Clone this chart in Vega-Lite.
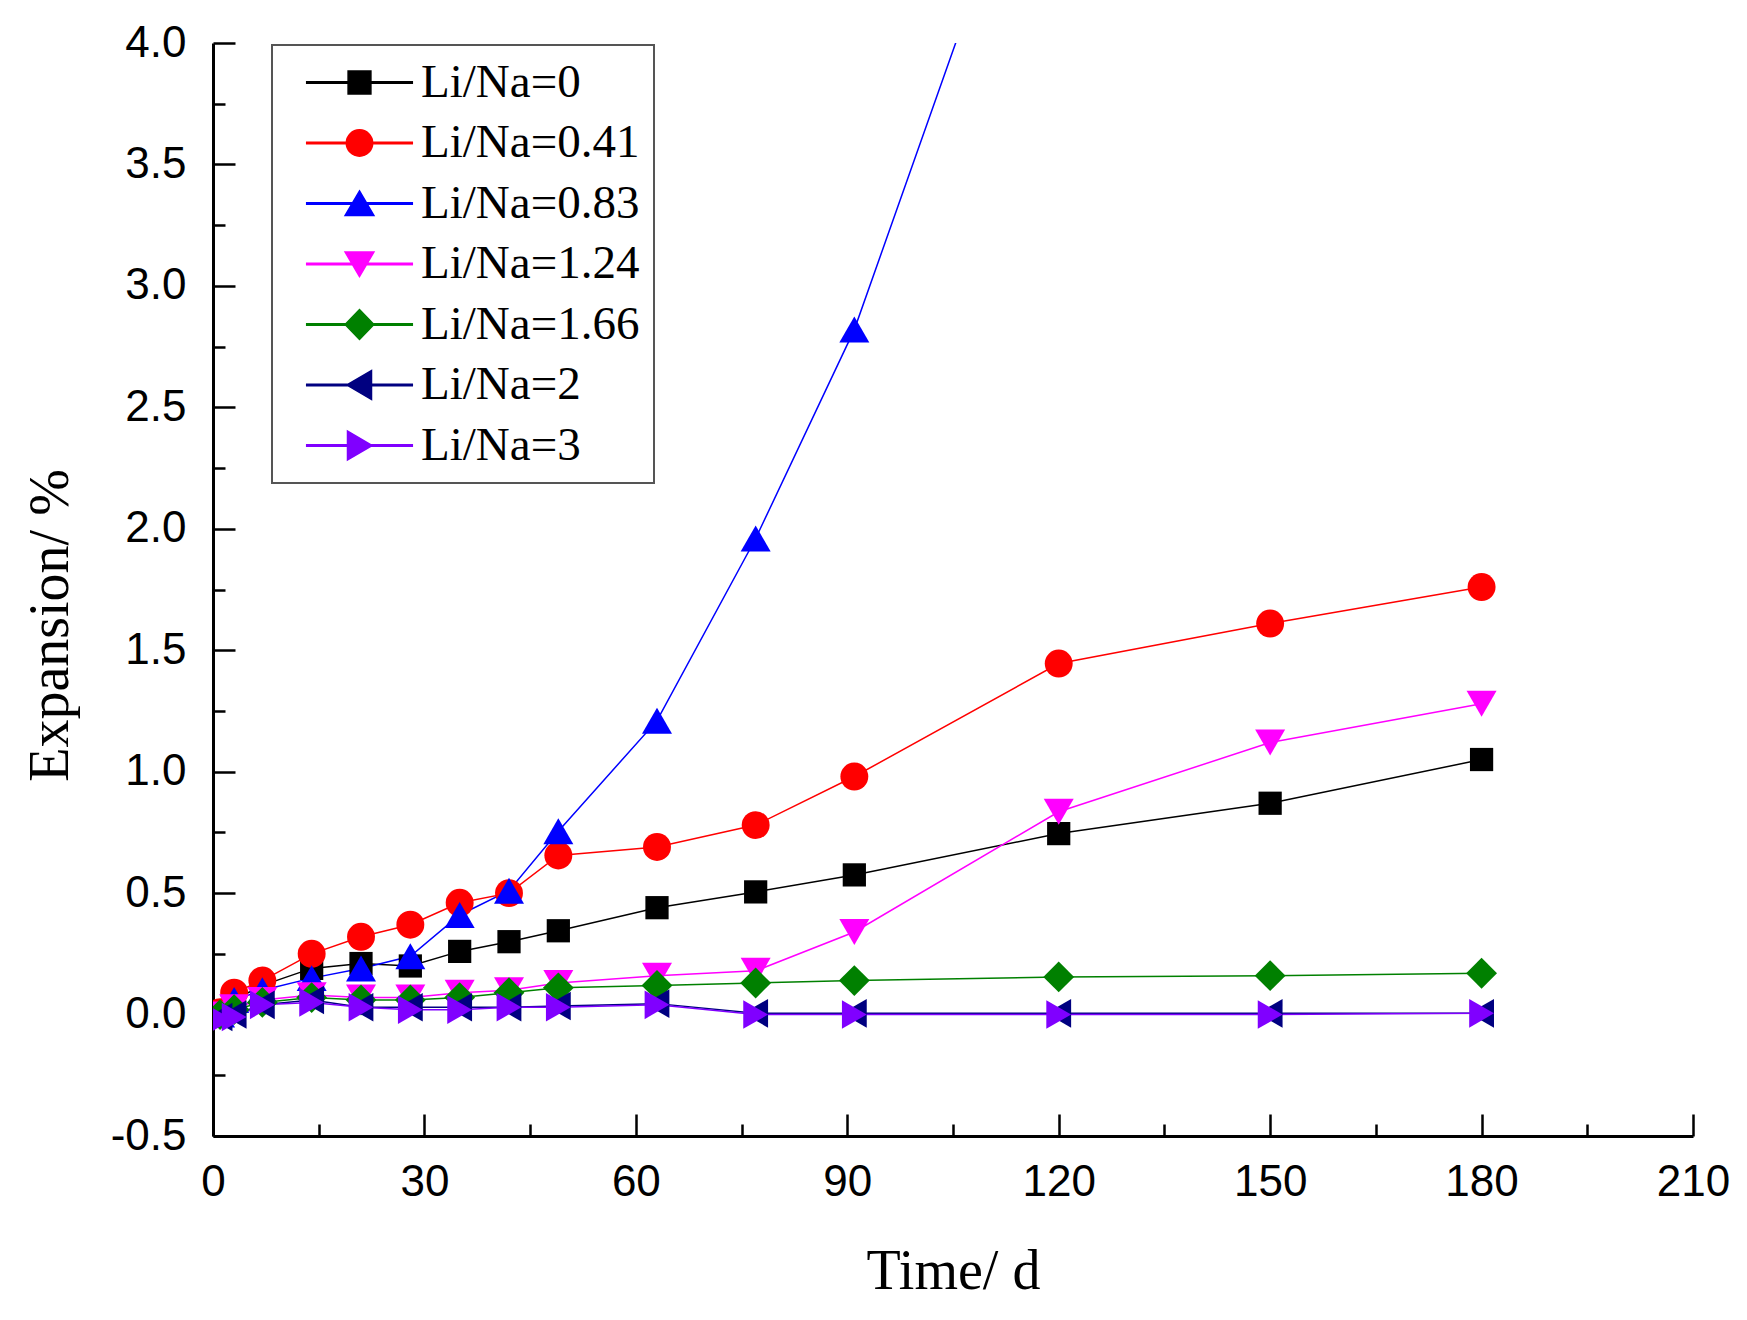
{
  "$schema": "https://vega.github.io/schema/vega-lite/v6.json",
  "width": 1480,
  "height": 1093,
  "autosize": {"type": "none"},
  "padding": {"left": 213, "top": 43, "right": 54, "bottom": 184},
  "background": "white",
  "config": {"view": {"stroke": null}, "legend": {"strokeWidth": 2}},
  "data": {"values": [
    {"series": "Li/Na=0", "day": 1, "expansion": 0.0},
    {"series": "Li/Na=0", "day": 3, "expansion": 0.06},
    {"series": "Li/Na=0", "day": 7, "expansion": 0.12},
    {"series": "Li/Na=0", "day": 14, "expansion": 0.19},
    {"series": "Li/Na=0", "day": 21, "expansion": 0.21},
    {"series": "Li/Na=0", "day": 28, "expansion": 0.2},
    {"series": "Li/Na=0", "day": 35, "expansion": 0.26},
    {"series": "Li/Na=0", "day": 42, "expansion": 0.3},
    {"series": "Li/Na=0", "day": 49, "expansion": 0.345},
    {"series": "Li/Na=0", "day": 63, "expansion": 0.44},
    {"series": "Li/Na=0", "day": 77, "expansion": 0.505},
    {"series": "Li/Na=0", "day": 91, "expansion": 0.575},
    {"series": "Li/Na=0", "day": 120, "expansion": 0.745},
    {"series": "Li/Na=0", "day": 150, "expansion": 0.87},
    {"series": "Li/Na=0", "day": 180, "expansion": 1.05},

    {"series": "Li/Na=0.41", "day": 1, "expansion": 0.01},
    {"series": "Li/Na=0.41", "day": 3, "expansion": 0.09},
    {"series": "Li/Na=0.41", "day": 7, "expansion": 0.14},
    {"series": "Li/Na=0.41", "day": 14, "expansion": 0.25},
    {"series": "Li/Na=0.41", "day": 21, "expansion": 0.32},
    {"series": "Li/Na=0.41", "day": 28, "expansion": 0.37},
    {"series": "Li/Na=0.41", "day": 35, "expansion": 0.46},
    {"series": "Li/Na=0.41", "day": 42, "expansion": 0.5},
    {"series": "Li/Na=0.41", "day": 49, "expansion": 0.655},
    {"series": "Li/Na=0.41", "day": 63, "expansion": 0.69},
    {"series": "Li/Na=0.41", "day": 77, "expansion": 0.78},
    {"series": "Li/Na=0.41", "day": 91, "expansion": 0.98},
    {"series": "Li/Na=0.41", "day": 120, "expansion": 1.445},
    {"series": "Li/Na=0.41", "day": 150, "expansion": 1.61},
    {"series": "Li/Na=0.41", "day": 180, "expansion": 1.76},

    {"series": "Li/Na=0.83", "day": 1, "expansion": 0.0},
    {"series": "Li/Na=0.83", "day": 3, "expansion": 0.06},
    {"series": "Li/Na=0.83", "day": 7, "expansion": 0.1},
    {"series": "Li/Na=0.83", "day": 14, "expansion": 0.15},
    {"series": "Li/Na=0.83", "day": 21, "expansion": 0.19},
    {"series": "Li/Na=0.83", "day": 28, "expansion": 0.24},
    {"series": "Li/Na=0.83", "day": 35, "expansion": 0.41},
    {"series": "Li/Na=0.83", "day": 42, "expansion": 0.51},
    {"series": "Li/Na=0.83", "day": 49, "expansion": 0.755},
    {"series": "Li/Na=0.83", "day": 63, "expansion": 1.21},
    {"series": "Li/Na=0.83", "day": 77, "expansion": 1.96},
    {"series": "Li/Na=0.83", "day": 91, "expansion": 2.82},
    {"series": "Li/Na=0.83", "day": 120, "expansion": 5.2},

    {"series": "Li/Na=1.24", "day": 1, "expansion": 0.0},
    {"series": "Li/Na=1.24", "day": 3, "expansion": 0.03},
    {"series": "Li/Na=1.24", "day": 7, "expansion": 0.06},
    {"series": "Li/Na=1.24", "day": 14, "expansion": 0.08},
    {"series": "Li/Na=1.24", "day": 21, "expansion": 0.07},
    {"series": "Li/Na=1.24", "day": 28, "expansion": 0.07},
    {"series": "Li/Na=1.24", "day": 35, "expansion": 0.09},
    {"series": "Li/Na=1.24", "day": 42, "expansion": 0.1},
    {"series": "Li/Na=1.24", "day": 49, "expansion": 0.13},
    {"series": "Li/Na=1.24", "day": 63, "expansion": 0.16},
    {"series": "Li/Na=1.24", "day": 77, "expansion": 0.18},
    {"series": "Li/Na=1.24", "day": 91, "expansion": 0.34},
    {"series": "Li/Na=1.24", "day": 120, "expansion": 0.835},
    {"series": "Li/Na=1.24", "day": 150, "expansion": 1.12},
    {"series": "Li/Na=1.24", "day": 180, "expansion": 1.28},

    {"series": "Li/Na=1.66", "day": 1, "expansion": 0.0},
    {"series": "Li/Na=1.66", "day": 3, "expansion": 0.02},
    {"series": "Li/Na=1.66", "day": 7, "expansion": 0.05},
    {"series": "Li/Na=1.66", "day": 14, "expansion": 0.07},
    {"series": "Li/Na=1.66", "day": 21, "expansion": 0.06},
    {"series": "Li/Na=1.66", "day": 28, "expansion": 0.06},
    {"series": "Li/Na=1.66", "day": 35, "expansion": 0.07},
    {"series": "Li/Na=1.66", "day": 42, "expansion": 0.09},
    {"series": "Li/Na=1.66", "day": 49, "expansion": 0.11},
    {"series": "Li/Na=1.66", "day": 63, "expansion": 0.12},
    {"series": "Li/Na=1.66", "day": 77, "expansion": 0.13},
    {"series": "Li/Na=1.66", "day": 91, "expansion": 0.14},
    {"series": "Li/Na=1.66", "day": 120, "expansion": 0.155},
    {"series": "Li/Na=1.66", "day": 150, "expansion": 0.16},
    {"series": "Li/Na=1.66", "day": 180, "expansion": 0.17},

    {"series": "Li/Na=2", "day": 1, "expansion": -0.01},
    {"series": "Li/Na=2", "day": 3, "expansion": 0.0},
    {"series": "Li/Na=2", "day": 7, "expansion": 0.04},
    {"series": "Li/Na=2", "day": 14, "expansion": 0.06},
    {"series": "Li/Na=2", "day": 21, "expansion": 0.03},
    {"series": "Li/Na=2", "day": 28, "expansion": 0.03},
    {"series": "Li/Na=2", "day": 35, "expansion": 0.03},
    {"series": "Li/Na=2", "day": 42, "expansion": 0.03},
    {"series": "Li/Na=2", "day": 49, "expansion": 0.035},
    {"series": "Li/Na=2", "day": 63, "expansion": 0.045},
    {"series": "Li/Na=2", "day": 77, "expansion": 0.005},
    {"series": "Li/Na=2", "day": 91, "expansion": 0.005},
    {"series": "Li/Na=2", "day": 120, "expansion": 0.005},
    {"series": "Li/Na=2", "day": 150, "expansion": 0.005},
    {"series": "Li/Na=2", "day": 180, "expansion": 0.005},

    {"series": "Li/Na=3", "day": 1, "expansion": -0.02},
    {"series": "Li/Na=3", "day": 3, "expansion": -0.01},
    {"series": "Li/Na=3", "day": 7, "expansion": 0.04},
    {"series": "Li/Na=3", "day": 14, "expansion": 0.05},
    {"series": "Li/Na=3", "day": 21, "expansion": 0.03},
    {"series": "Li/Na=3", "day": 28, "expansion": 0.02},
    {"series": "Li/Na=3", "day": 35, "expansion": 0.02},
    {"series": "Li/Na=3", "day": 42, "expansion": 0.03},
    {"series": "Li/Na=3", "day": 49, "expansion": 0.03},
    {"series": "Li/Na=3", "day": 63, "expansion": 0.04},
    {"series": "Li/Na=3", "day": 77, "expansion": 0.0},
    {"series": "Li/Na=3", "day": 91, "expansion": 0.0},
    {"series": "Li/Na=3", "day": 120, "expansion": 0.0},
    {"series": "Li/Na=3", "day": 150, "expansion": 0.0},
    {"series": "Li/Na=3", "day": 180, "expansion": 0.005}
  ]},
  "encoding": {
    "x": {
      "field": "day", "type": "quantitative",
      "scale": {"domain": [0, 210], "nice": false, "zero": false},
      "axis": {
        "title": "Time/ d",
        "titleFont": "Liberation Serif", "titleFontSize": 56, "titleFontWeight": "normal", "titleColor": "black",
        "titleBaseline": "alphabetic", "titleY": 152,
        "values": [0, 15, 30, 45, 60, 75, 90, 105, 120, 135, 150, 165, 180, 195, 210],
        "labelExpr": "datum.value % 30 === 0 ? datum.label : ''",
        "labelFont": "Liberation Sans", "labelFontSize": 44, "labelColor": "black", "labelPadding": 24,
        "labelOverlap": false, "labelFlush": false,
        "ticks": false, "tickSize": 0,
        "grid": true, "gridColor": "black", "gridWidth": 2.5, "gridOpacity": 1,
        "gridDash": {"condition": {"test": "datum.value % 30 === 0", "value": [0, 1071, 22, 3000]}, "value": [0, 1081, 12, 3000]},
        "domainColor": "black", "domainWidth": 3
      }
    },
    "y": {
      "field": "expansion", "type": "quantitative",
      "scale": {"domain": [-0.5, 4], "nice": false, "zero": false},
      "axis": {
        "title": "Expansion/ %",
        "titleFont": "Liberation Serif", "titleFontSize": 56, "titleFontWeight": "normal", "titleColor": "black",
        "titleX": -163, "titleY": 582, "titleAlign": "center", "titleBaseline": "middle", "titleAngle": 270,
        "values": [-0.5, -0.25, 0, 0.25, 0.5, 0.75, 1, 1.25, 1.5, 1.75, 2, 2.25, 2.5, 2.75, 3, 3.25, 3.5, 3.75, 4],
        "labelExpr": "datum.value % 0.5 === 0 ? replace(format(datum.value, '.1f'), '\u2212', '-') : ''",
        "labelFont": "Liberation Sans", "labelFontSize": 44, "labelColor": "black", "labelPadding": 27,
        "labelOverlap": false, "labelFlush": false,
        "ticks": false, "tickSize": 0,
        "grid": true, "gridColor": "black", "gridWidth": 2.5, "gridOpacity": 1,
        "gridDash": {"condition": {"test": "datum.value % 0.5 === 0", "value": [22, 3000]}, "value": [12, 3000]},
        "domainColor": "black", "domainWidth": 3
      }
    },
    "color": {
      "field": "series", "type": "nominal",
      "scale": {
        "domain": ["Li/Na=0", "Li/Na=0.41", "Li/Na=0.83", "Li/Na=1.24", "Li/Na=1.66", "Li/Na=2", "Li/Na=3"],
        "range": ["#000000", "#FF0000", "#0000FF", "#FF00FF", "#008000", "#000080", "#8000FF"]
      },
      "legend": {
        "title": null,
        "orient": "none", "legendX": 59, "legendY": 2,
        "labelFont": "Liberation Serif", "labelFontSize": 47, "labelColor": "black", "labelLimit": 0,
        "symbolSize": 576, "symbolStrokeWidth": 1.5, "symbolOpacity": 1,
        "symbolType": {"expr": "datum.value === 'Li/Na=0' ? 'M-4.4,-0.06H4.4V0.06H-4.4ZM-0.95,-0.95H0.95V0.95H-0.95Z' : datum.value === 'Li/Na=0.41' ? 'M-4.4,-0.06H4.4V0.06H-4.4ZM-1.1,0A1.1,1.1,0,1,1,1.1,0A1.1,1.1,0,1,1,-1.1,0Z' : datum.value === 'Li/Na=0.83' ? 'M-4.4,-0.06H4.4V0.06H-4.4ZM0,-1.05L1.2,1H-1.2Z' : datum.value === 'Li/Na=1.24' ? 'M-4.4,-0.06H4.4V0.06H-4.4ZM0,1.05L-1.2,-1H1.2Z' : datum.value === 'Li/Na=1.66' ? 'M-4.4,-0.06H4.4V0.06H-4.4ZM-1.2,0L0,-1.25L1.2,0L0,1.25Z' : datum.value === 'Li/Na=2' ? 'M-4.4,-0.06H4.4V0.06H-4.4ZM-1.05,0L1,-1.2V1.2Z' : 'M-4.4,-0.06H4.4V0.06H-4.4ZM1.05,0L-1,1.2V-1.2Z'"},
        "symbolFillColor": {"expr": "scale('color', datum.value)"},
        "symbolStrokeColor": {"expr": "scale('color', datum.value)"},
        "rowPadding": 12.5, "padding": 14,
        "symbolOffset": 50, "labelOffset": 38,
        "strokeColor": "#555555", "fillColor": "white"
      }
    }
  },
  "layer": [
    {
      "mark": {"type": "line", "strokeWidth": 1.5, "clip": true}
    },
    {
      "transform": [{"filter": "datum.series === 'Li/Na=0'"}],
      "mark": {"type": "point", "shape": "square", "size": 540, "filled": true, "opacity": 1, "clip": true}
    },
    {
      "transform": [{"filter": "datum.series === 'Li/Na=0.41'"}],
      "mark": {"type": "point", "shape": "circle", "size": 780, "filled": true, "opacity": 1, "clip": true}
    },
    {
      "transform": [{"filter": "datum.series === 'Li/Na=0.83'"}],
      "mark": {"type": "point", "shape": "triangle-up", "size": 900, "filled": true, "opacity": 1, "clip": true}
    },
    {
      "transform": [{"filter": "datum.series === 'Li/Na=1.24'"}],
      "mark": {"type": "point", "shape": "triangle-down", "size": 900, "filled": true, "opacity": 1, "clip": true}
    },
    {
      "transform": [{"filter": "datum.series === 'Li/Na=1.66'"}],
      "mark": {"type": "point", "shape": "diamond", "size": 950, "filled": true, "opacity": 1, "clip": true}
    },
    {
      "transform": [{"filter": "datum.series === 'Li/Na=2'"}],
      "mark": {"type": "point", "shape": "triangle-left", "size": 820, "filled": true, "opacity": 1, "clip": true}
    },
    {
      "transform": [{"filter": "datum.series === 'Li/Na=3'"}],
      "mark": {"type": "point", "shape": "triangle-right", "size": 820, "filled": true, "opacity": 1, "clip": true}
    }
  ]
}
